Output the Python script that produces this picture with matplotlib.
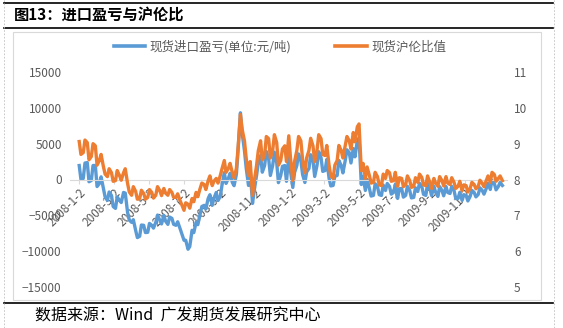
import matplotlib
matplotlib.use("Agg")
import matplotlib.pyplot as plt
import numpy as np
from matplotlib.lines import Line2D
from matplotlib.patches import Rectangle

plt.rcParams['font.family'] = ['Noto Sans CJK SC', 'DejaVu Sans']

# twice-weekly readings (Wed / Sat), starting 2008-01-02
start = np.datetime64('2008-01-02')
profit = [1950, 20, 140, 2300, 2360, -315, -139, 1955, 1950, -980,
          -560, 370, -1250, -2435, -2920, -1745, -2220, -3775, -4030, -2425,
          -2920, -3215, -1810, -1900, -4590, -5660, -5980, -5610, -7090, -8105,
          -7920, -6355, -6390, -7405, -7370, -6130, -6390, -6785, -5980, -4965,
          -5700, -6200, -5000, -5805, -6260, -5240, -5420, -6255, -6390, -5900,
          -6810, -7545, -8480, -8480, -9730, -9360, -7090, -7410, -5980, -6300,
          -4870, -3765, -3610, -4100, -2640, -2125, -3610, -2610, -1810, -2935,
          -2360, -795, 970, -545, 140, 860, -420, -860, 700, 4205,
          9310, 6445, 4030, 1625, -830, 1240, -3340, -1515, 560, 2275,
          3340, 1020, 1950, 3910, 2920, 560, 1950, 3805, 2360, -440,
          560, 1830, 1950, -255, 3340, 1140, -1110, 970, 1950, 3570,
          2640, 685, -420, 1055, 1530, 3460, 2640, 420, 1950, 3880,
          3060, 1130, 1250, 2795, 140, -895, -830, 465, 560, 2655,
          1950, 920, 2640, 4145, 3750, 2305, 4310, 3165, 5420, 5810,
          -700, 435, -1530, 10, -1250, -2310, -2220, -595, -970, -2120,
          -2220, -775, -1530, -550, -970, -2040, -1810, -675, -2640, -1295,
          -1250, -2460, -2220, -950, -1530, -2565, -2500, -1160, -1670, -520,
          -970, -2070, -2220, -610, -1250, -2235, -970, -1765, -2360, -995,
          -1530, -2275, -970, -1810, -1950, -940, -1530, -2660, -2640, -1780,
          -2920, -2120, -2220, -2990, -2360, -1510, -1810, -2425, -2090, -1160,
          -1530, -2040, -1250, -545, -1390, -125, -560, -1440, -970, -400,
          -830]
ratio = [9.06, 8.70, 8.75, 9.10, 9.03, 8.55, 8.64, 9.00, 8.94, 8.40,
         8.53, 8.70, 8.36, 8.15, 8.08, 8.30, 8.19, 7.95, 7.97, 8.25,
         8.11, 7.98, 8.19, 8.30, 7.89, 7.65, 7.56, 7.80, 7.67, 7.45,
         7.47, 7.70, 7.61, 7.45, 7.50, 7.72, 7.64, 7.48, 7.56, 7.80,
         7.69, 7.55, 7.75, 7.62, 7.56, 7.72, 7.64, 7.50, 7.50, 7.60,
         7.42, 7.30, 7.14, 7.35, 7.31, 7.20, 7.47, 7.38, 7.64, 7.52,
         7.75, 7.90, 7.86, 7.72, 7.97, 8.10, 7.83, 7.95, 8.03, 7.90,
         8.11, 8.30, 8.53, 8.20, 8.31, 8.45, 8.19, 8.05, 8.31, 8.90,
         9.81, 9.40, 9.08, 8.60, 8.11, 8.50, 7.56, 7.95, 8.39, 8.80,
         9.08, 8.55, 8.67, 9.20, 9.14, 8.60, 8.81, 9.25, 9.03, 8.40,
         8.53, 8.85, 8.94, 8.50, 9.22, 8.60, 7.97, 8.50, 8.81, 9.20,
         9.08, 8.55, 8.19, 8.60, 8.81, 9.15, 8.94, 8.50, 8.81, 9.25,
         9.14, 8.70, 8.67, 8.95, 8.39, 8.10, 8.03, 8.40, 8.53, 8.95,
         8.81, 8.60, 8.94, 9.20, 9.08, 8.85, 9.31, 9.05, 9.47, 9.55,
         8.25, 8.45, 8.03, 8.35, 8.11, 7.90, 7.92, 8.20, 8.08, 7.85,
         7.83, 8.15, 8.03, 8.25, 8.19, 7.95, 7.97, 8.20, 7.81, 8.05,
         8.03, 7.80, 7.86, 8.10, 7.97, 7.78, 7.81, 8.05, 7.92, 8.15,
         8.06, 7.85, 7.83, 8.10, 7.92, 7.75, 8.03, 7.90, 7.81, 8.08,
         7.97, 7.82, 8.08, 7.90, 7.86, 8.05, 7.92, 7.75, 7.81, 7.95,
         7.69, 7.85, 7.83, 7.65, 7.75, 7.92, 7.86, 7.74, 7.81, 7.98,
         7.89, 7.80, 7.97, 8.10, 7.92, 8.20, 8.14, 7.95, 8.03, 8.10,
         7.97]
idx = np.arange(len(profit))
dates = start + (idx // 2 * 7 + idx % 2 * 3) * np.timedelta64(1, 'D')

tick_labels = ['2008-1-2', '2008-3-2', '2008-5-2', '2008-7-2', '2008-9-2', '2008-11-2',
               '2009-1-2', '2009-3-2', '2009-5-2', '2009-7-2', '2009-9-2', '2009-11-2']
tick_dates = [np.datetime64('%s-%02d-%02d' % tuple(int(p) for p in t.split('-'))) for t in tick_labels]

blue = '#5B9BD5'
orange = '#ED7D31'
grey = '#595959'

fig = plt.figure(figsize=(5.63, 3.28), dpi=100)

# frame decorations
fig.add_artist(Rectangle((13/563, 1-300/328), 528/563, 268/328, transform=fig.transFigure,
                         fill=False, edgecolor='#d9d9d9', linewidth=0.8))
for yy in [3, 28, 303]:
    fig.add_artist(Line2D([4/563, 553/563], [1-yy/328, 1-yy/328], transform=fig.transFigure,
                          color='black', linewidth=1.2))
for xx in [4, 554]:
    fig.add_artist(Line2D([xx/563, xx/563], [0, 1], transform=fig.transFigure,
                          color='#bfbfbf', linewidth=0.6, linestyle=(0, (2, 2))))

fig.text(14/563, 1-15/328, '图13：进口盈亏与沪伦比', fontsize=11, fontweight='bold',
         va='center', ha='left', color='black')
fig.text(35/563, 1-316/328, '数据来源：Wind  广发期货发展研究中心', fontsize=11.5,
         va='center', ha='left', color='black')

ax = fig.add_axes([70/563, 1-287/328, 437/563, 215/328])
ax.patch.set_alpha(0)
ax.plot(dates, profit, color=blue, linewidth=2.4, solid_joinstyle='round')

ax2 = ax.twinx()
ax2.plot(dates, ratio, color=orange, linewidth=2.4, solid_joinstyle='round')
ax2.set_ylim(5, 11)
ax2.set_yticks(np.arange(5, 12, 1))
for s in ax2.spines.values():
    s.set_visible(False)
ax2.tick_params(axis='y', length=0, labelsize=8.5, labelcolor=grey, pad=5)

ax.set_ylim(-15000, 15000)
ax.set_yticks(np.arange(-15000, 15001, 5000))
ax.set_xlim(np.datetime64('2007-12-17'), np.datetime64('2010-01-14'))
ax.set_xticks(tick_dates)
ax.set_xticklabels(tick_labels)
for s in ['top', 'right', 'left']:
    ax.spines[s].set_visible(False)
ax.spines['bottom'].set_position(('data', 0))
ax.spines['bottom'].set_color('#d9d9d9')
ax.tick_params(axis='y', length=0, labelsize=8.5, labelcolor=grey, pad=6)
ax.tick_params(axis='x', length=3, color='#d9d9d9', labelsize=8.5, labelcolor=grey, pad=2,
               labelrotation=45)
for lab in ax.get_xticklabels():
    lab.set_ha('right')
    lab.set_rotation_mode('anchor')

handles = [Line2D([], [], color=blue, linewidth=2.6), Line2D([], [], color=orange, linewidth=2.6)]
fig.legend(handles, ['现货进口盈亏(单位:元/吨)', '现货沪伦比值'], loc='center',
           bbox_to_anchor=(280/563, 1-47/328), ncol=2, frameon=False, fontsize=9,
           labelcolor=grey, handlelength=2.5, columnspacing=3.5, handletextpad=0.4)

fig.savefig('out.png', dpi=100)
